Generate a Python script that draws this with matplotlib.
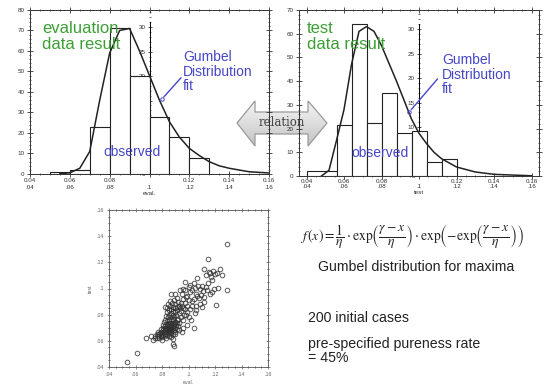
import matplotlib
matplotlib.use('Agg')
import matplotlib.pyplot as plt
import numpy as np
from matplotlib.patches import Polygon
from matplotlib.ticker import MultipleLocator

plt.rcParams['font.family'] = ['Liberation Sans', 'DejaVu Sans']
plt.rcParams['mathtext.fontset'] = 'stix'

# evaluation data histogram + gumbel fit
eval_edges = [0.05, 0.06, 0.07, 0.08, 0.09, 0.10, 0.11, 0.12, 0.13]
eval_counts = [1, 2, 23, 71, 48, 28, 18, 8]
eval_fit_x = [0.055, 0.06, 0.065, 0.07, 0.075, 0.08, 0.085, 0.09, 0.095, 0.10, 0.105,
              0.11, 0.115, 0.12, 0.125, 0.13, 0.135, 0.14, 0.15, 0.16]
eval_fit_y = [0.1, 0.6, 2.8, 11, 36, 59, 70, 71, 60, 48, 36,
              25.5, 18, 12.5, 9, 6, 4, 2.8, 1.1, 0.5]

# test data histogram + gumbel fit
test_edges = [0.040, 0.056, 0.064, 0.072, 0.080, 0.088, 0.096, 0.104, 0.112, 0.120]
test_counts = [2, 21.5, 64, 22.5, 35, 18, 19, 6, 7]
test_fit_x = [0.048, 0.052, 0.056, 0.060, 0.064, 0.068, 0.072, 0.076, 0.080, 0.084,
              0.088, 0.092, 0.096, 0.100, 0.104, 0.108, 0.112, 0.120, 0.130, 0.140, 0.160]
test_fit_y = [0, 2.4, 15, 28, 47, 61, 63, 61, 55, 47.5,
              40, 32, 24, 18, 13.7, 10, 7.3, 3.8, 1.7, 0.7, 0.1]

x_ticks = [0.04, 0.06, 0.08, 0.10, 0.12, 0.14, 0.16]
x_labels_a = ['0.04', '0.06', '0.08', '', '0.12', '0.14', '0.16']
x_labels_b = ['.04', '.06', '.08', '.1', '.12', '.14', '.16']
inner_ticks = [0, 5, 10, 15, 20, 25, 30]

# eval vs test scatter (200 cases)
sc_eval = [0.0534, 0.0609, 0.0679, 0.0715, 0.1293, 0.1149, 0.1117, 0.1155, 0.1238, 0.1213,
           0.1198, 0.1253, 0.1208, 0.1042, 0.0882, 0.0885, 0.0887, 0.1160, 0.1185, 0.1130,
           0.0760, 0.0770, 0.0775, 0.0780, 0.0785, 0.0790, 0.0795, 0.0800, 0.0800, 0.0805,
           0.0810, 0.0810, 0.0815, 0.0820, 0.0820, 0.0825, 0.0825, 0.0830, 0.0830, 0.0835,
           0.0835, 0.0840, 0.0840, 0.0845, 0.0845, 0.0850, 0.0850, 0.0855, 0.0855, 0.0860,
           0.0860, 0.0865, 0.0865, 0.0870, 0.0870, 0.0875, 0.0875, 0.0880, 0.0880, 0.0885,
           0.0890, 0.0890, 0.0895, 0.0900, 0.0900, 0.0905, 0.0910, 0.0915, 0.0920, 0.0925,
           0.0790, 0.0805, 0.0815, 0.0825, 0.0770, 0.0760, 0.0750, 0.0745, 0.0735, 0.0850,
           0.0870, 0.0800, 0.0830, 0.0860, 0.0840, 0.0880, 0.0895, 0.0820, 0.0845, 0.0868,
           0.0830, 0.0835, 0.0840, 0.0845, 0.0850, 0.0855, 0.0860, 0.0860, 0.0865, 0.0870,
           0.0870, 0.0875, 0.0880, 0.0880, 0.0885, 0.0890, 0.0890, 0.0895, 0.0900, 0.0900,
           0.0905, 0.0910, 0.0910, 0.0915, 0.0920, 0.0920, 0.0925, 0.0930, 0.0935, 0.0940,
           0.0945, 0.0950, 0.0955, 0.0960, 0.0965, 0.0970, 0.0975, 0.0980, 0.0985, 0.0990,
           0.0870, 0.0900, 0.0950, 0.0825, 0.0845, 0.0880, 0.0910, 0.0940, 0.0855, 0.0900,
           0.0935, 0.0960, 0.0975, 0.0990, 0.1000, 0.1000, 0.1010, 0.1015, 0.1030, 0.1030,
           0.1040, 0.1045, 0.1050, 0.1060, 0.1065, 0.1065, 0.1070, 0.1080, 0.1085, 0.1085,
           0.1095, 0.1100, 0.1110, 0.1115, 0.1120, 0.1130, 0.1140, 0.1150, 0.1160, 0.1170,
           0.1180, 0.1180, 0.1195, 0.1225, 0.1293, 0.1010, 0.1050, 0.0980, 0.1000, 0.0960,
           0.0990, 0.0930, 0.0960, 0.0950, 0.1020, 0.1060, 0.1100, 0.0975, 0.1055, 0.1025]
sc_test = [0.0436, 0.0505, 0.0619, 0.0637, 0.1338, 0.1223, 0.1149, 0.1129, 0.1147, 0.1116,
           0.1109, 0.1104, 0.0874, 0.0696, 0.0612, 0.0575, 0.0558, 0.1115, 0.1130, 0.1100,
           0.0620, 0.0635, 0.0650, 0.0625, 0.0660, 0.0640, 0.0670, 0.0630, 0.0655, 0.0685,
           0.0645, 0.0700, 0.0665, 0.0680, 0.0635, 0.0710, 0.0655, 0.0690, 0.0670, 0.0720,
           0.0645, 0.0700, 0.0680, 0.0660, 0.0730, 0.0690, 0.0710, 0.0675, 0.0740, 0.0700,
           0.0655, 0.0720, 0.0685, 0.0705, 0.0670, 0.0735, 0.0690, 0.0715, 0.0650, 0.0700,
           0.0680, 0.0725, 0.0745, 0.0700, 0.0670, 0.0720, 0.0690, 0.0735, 0.0710, 0.0680,
           0.0690, 0.0720, 0.0745, 0.0760, 0.0670, 0.0650, 0.0640, 0.0625, 0.0610, 0.0640,
           0.0630, 0.0610, 0.0625, 0.0735, 0.0750, 0.0760, 0.0655, 0.0700, 0.0690, 0.0712,
           0.0790, 0.0820, 0.0850, 0.0880, 0.0800, 0.0835, 0.0905, 0.0865, 0.0780, 0.0815,
           0.0845, 0.0890, 0.0800, 0.0860, 0.0830, 0.0910, 0.0780, 0.0850, 0.0820, 0.0880,
           0.0795, 0.0860, 0.0930, 0.0835, 0.0900, 0.0770, 0.0870, 0.0810, 0.0850, 0.0890,
           0.0830, 0.0870, 0.0920, 0.0850, 0.0800, 0.0890, 0.0840, 0.0935, 0.0870, 0.0820,
           0.0955, 0.0960, 0.0960, 0.0860, 0.0780, 0.0770, 0.0760, 0.0780, 0.0760, 0.0745,
           0.0985, 0.1000, 0.0990, 0.0940, 0.0910, 0.1010, 0.0970, 0.1030, 0.0990, 0.0870,
           0.0920, 0.1040, 0.1005, 0.0870, 0.0940, 0.1083, 0.1020, 0.0925, 0.0880, 0.1000,
           0.0950, 0.1020, 0.0980, 0.0935, 0.0900, 0.1015, 0.0985, 0.1045, 0.0960, 0.1085,
           0.0975, 0.1065, 0.0995, 0.1005, 0.0985, 0.0845, 0.0810, 0.0800, 0.0780, 0.0760,
           0.0720, 0.0740, 0.0700, 0.0670, 0.0760, 0.0835, 0.0860, 0.1050, 0.0960, 0.0905]

GREEN = '#3c9e34'
BLUE = '#4646c8'

fig = plt.figure(figsize=(5.52, 3.88), dpi=100)
W, H = 552.0, 388.0


def fx(px):
    return px / W


def fy(py):
    return 1 - py / H


# "relation" double arrow, drawn first so the panels sit on top of it
arr_px = [(237, 123), (255, 101), (255, 112), (308, 112), (308, 101), (327, 123),
          (308, 146), (308, 134), (255, 134), (255, 146)]
aax = fig.add_axes([0, 0, 1, 1], zorder=0)
aax.set_xlim(0, 1)
aax.set_ylim(0, 1)
aax.axis('off')
poly = Polygon([(fx(a), fy(b)) for a, b in arr_px], closed=True, facecolor='none',
               edgecolor='#9a9a9a', lw=0.9, zorder=3)
aax.add_patch(poly)
grad = np.linspace(0, 1, 100).reshape(-1, 1)
im = aax.imshow(grad, cmap='Greys', vmin=-0.4, vmax=3.5, aspect='auto',
                extent=(fx(237), fx(327), fy(146), fy(101)), zorder=2, origin='upper')
im.set_clip_path(poly)
aax.text(fx(282), fy(123), 'relation', family='DejaVu Serif', fontsize=8.5,
         color='#444444', ha='center', va='center', zorder=4)


def panel(rect, edges, counts, fit_x, fit_y, xlim, ymax, inner_top, lab_a_off, lab_b_pad,
          xlabel, title, title_xy, gum_xy, arrow_from, arrow_to, obs_xy):
    ax2 = fig.add_axes(rect, zorder=1)
    ax = fig.add_axes(rect, zorder=2)
    ax.patch.set_visible(False)

    # inner (secondary) scale drawn at x = .1, partly hidden by the bars
    ax2.set_xlim(xlim)
    ax2.set_ylim(0, inner_top)
    ax2.set_xticks([])
    for s in ['top', 'right', 'bottom']:
        ax2.spines[s].set_visible(False)
    ax2.spines['left'].set_position(('data', 0.1))
    ax2.spines['left'].set_bounds(0, 31)
    ax2.spines['left'].set_linewidth(0.7)
    ax2.set_yticks(inner_ticks)
    ax2.yaxis.set_minor_locator(MultipleLocator(1))
    ax2.tick_params(axis='y', direction='inout', length=3, width=0.6, labelsize=4.5,
                    pad=1.5, colors='#333333')
    ax2.tick_params(axis='y', which='minor', direction='inout', length=1.5, width=0.4)
    ax2.patch.set_visible(False)

    widths = np.diff(edges)
    ax.bar(edges[:-1], counts, width=widths, align='edge', facecolor='white',
           edgecolor='#222222', lw=0.8, zorder=2)
    ax.plot(fit_x, fit_y, color='#222222', lw=1.1, zorder=3)
    ax.set_xlim(xlim)
    ax.set_ylim(0, ymax)
    ax.set_xticks(x_ticks)
    ax.set_xticklabels(x_labels_b)
    ax.set_yticks(np.arange(0, ymax + 1, 10))
    ax.xaxis.set_minor_locator(MultipleLocator(0.005))
    ax.yaxis.set_minor_locator(MultipleLocator(2))
    ax.tick_params(axis='both', which='major', direction='inout', length=4, width=0.6,
                   top=True, right=True, labelsize=4.5, colors='#333333')
    ax.tick_params(axis='both', which='minor', direction='inout', length=2, width=0.4,
                   top=True, right=True)
    ax.tick_params(axis='x', pad=lab_b_pad)
    ax.tick_params(axis='y', pad=2)
    for s in ax.spines.values():
        s.set_linewidth(0.7)
        s.set_color('#333333')
    tr = ax.get_xaxis_transform()
    h_px = rect[3] * H
    for t, lab in zip(x_ticks, x_labels_a):
        ax.text(t, -lab_a_off / h_px, lab, transform=tr, ha='center', va='center',
                fontsize=4.5, color='#333333')
    ax.set_xlabel(xlabel, fontsize=4.5, labelpad=1, color='#333333')

    ax.text(title_xy[0], title_xy[1], title, transform=ax.transAxes, color=GREEN,
            fontsize=12, ha='left', va='top', linespacing=1.08, zorder=5)
    ax.text(gum_xy[0], gum_xy[1], 'Gumbel\nDistribution\nfit', transform=ax.transAxes,
            color=BLUE, fontsize=10, ha='left', va='top', linespacing=1.05, zorder=5)
    ax.annotate('', xy=arrow_to, xytext=arrow_from, xycoords='axes fraction',
                arrowprops=dict(arrowstyle='-', color=BLUE, lw=1.0), zorder=5)
    ax.plot([arrow_to[0]], [arrow_to[1]], 'o', transform=ax.transAxes, ms=2.5,
            mfc='none', mec=BLUE, mew=0.7, zorder=5)
    ax.text(obs_xy[0], obs_xy[1], 'observed', transform=ax.transAxes, color=BLUE,
            fontsize=10, ha='center', va='center', zorder=5)
    return ax


panel([fx(30), fy(174), 239 / W, 164 / H], eval_edges, eval_counts, eval_fit_x, eval_fit_y,
      (0.04, 0.16), 80, 33.5, 7, 5.7, 'eval.', 'evaluation\ndata result',
      (0.05, 0.935), (0.64, 0.755), (0.64, 0.60), (0.552, 0.457), (0.427, 0.134))

panel([fx(299), fy(176), 240 / W, 166 / H], test_edges, test_counts, test_fit_x, test_fit_y,
      (0.036, 0.164), 70, 33.9, 6, 3.5, 'test', 'test\ndata result',
      (0.032, 0.935), (0.595, 0.74), (0.585, 0.598), (0.46, 0.387), (0.339, 0.137))

# scatter eval vs test
sax = fig.add_axes([fx(109), fy(367), 159 / W, 157 / H], zorder=2)
sax.plot(sc_eval, sc_test, 'o', ms=3.3, mfc='none', mec='#303030', mew=0.7, alpha=0.8)
sax.set_xlim(0.04, 0.16)
sax.set_ylim(0.04, 0.16)
sax.set_xticks(x_ticks)
sax.set_xticklabels(x_labels_b)
sax.set_yticks(x_ticks)
sax.set_yticklabels(x_labels_b)
sax.xaxis.set_minor_locator(MultipleLocator(0.005))
sax.yaxis.set_minor_locator(MultipleLocator(0.005))
sax.tick_params(axis='both', which='major', direction='inout', length=3, width=0.5,
                top=True, right=True, labelsize=3.8, colors='#666666', pad=2)
sax.tick_params(axis='both', which='minor', direction='inout', length=1.5, width=0.4,
                top=True, right=True)
for s in sax.spines.values():
    s.set_linewidth(0.6)
    s.set_color('#555555')
sax.set_xlabel('eval.', fontsize=3.8, color='#666666', labelpad=2)
sax.set_ylabel('test', fontsize=3.8, color='#666666', labelpad=3)

# formula and notes
fig.text(fx(412), fy(237),
         r'$f\,(x) = \dfrac{1}{\eta}\cdot\exp\!\left(\dfrac{\gamma - x}{\eta}\right)'
         r'\cdot\exp\!\left(-\exp\!\left(\dfrac{\gamma - x}{\eta}\right)\right)$',
         fontsize=9.8, ha='center', va='center', color='#222222')
fig.text(fx(416), fy(267), 'Gumbel distribution for maxima', fontsize=10.2,
         ha='center', va='center', color='#222222')
fig.text(fx(308), fy(318), '200 initial cases', fontsize=10.2, ha='left', va='center',
         color='#222222')
fig.text(fx(308), fy(351), 'pre-specified pureness rate\n= 45%', fontsize=10.2,
         ha='left', va='center', color='#222222', linespacing=1.02)

fig.savefig('out.png', dpi=100, facecolor='white')
